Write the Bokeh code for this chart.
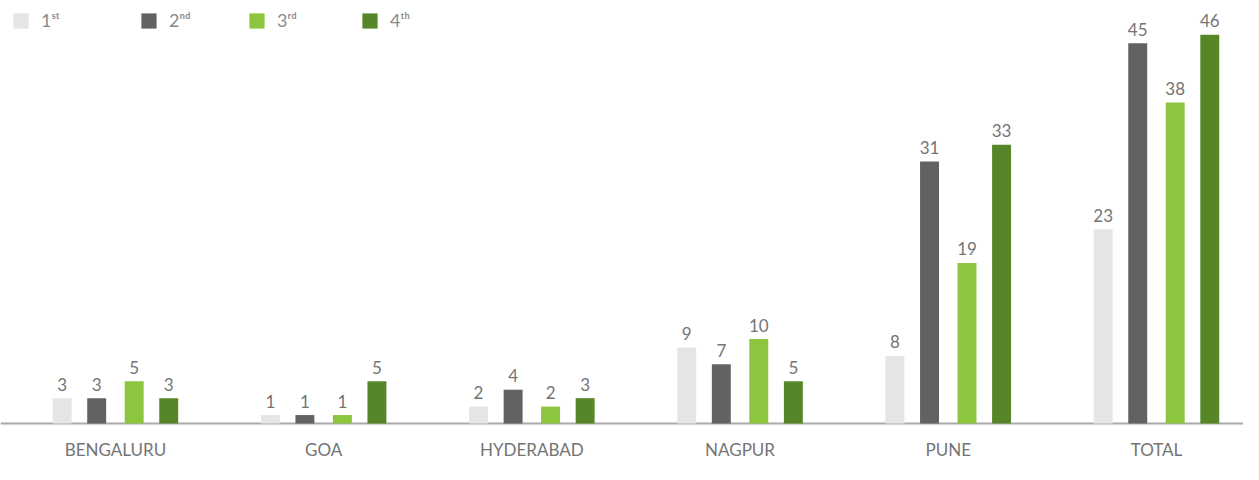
from bokeh.plotting import figure
from bokeh.models import Range1d, Span, Legend, LegendItem, ColumnDataSource, FixedTicker
from bokeh.transform import dodge
from bokeh.embed import file_html
from bokeh.resources import INLINE
from bokeh.core.properties import value

cities = ["BENGALURU", "GOA", "HYDERABAD", "NAGPUR", "PUNE", "TOTAL"]
first = [3, 1, 2, 9, 8, 23]
second = [3, 1, 4, 7, 31, 45]
third = [5, 1, 2, 10, 19, 38]
fourth = [3, 5, 3, 5, 33, 46]
series_names = ["1ˢᵗ", "2ⁿᵈ", "3ʳᵈ", "4ᵗʰ"]
colors = ["#e4e5e6", "#626262", "#8cc63f", "#578629"]

FONT = "Lato"
TEXT_COLOR = "#747474"

src = ColumnDataSource(dict(
    x=list(range(len(cities))),
    s1=first, s2=second, s3=third, s4=fourth,
    l1=[str(v) for v in first], l2=[str(v) for v in second],
    l3=[str(v) for v in third], l4=[str(v) for v in fourth],
))

p = figure(width=1243, height=464,
           x_range=Range1d(-0.552, 5.418), y_range=Range1d(-4.85, 50.06),
           output_backend="svg", toolbar_location=None, y_axis_location=None,
           min_border_left=0, min_border_right=0, min_border_top=0, min_border_bottom=0)
p.outline_line_color = None
p.xgrid.visible = False
p.ygrid.visible = False
p.background_fill_color = "white"
p.border_fill_color = "white"

base = Span(location=0, dimension="width", line_color="#aaaaaa", line_width=2, level="underlay")
p.add_layout(base)

offsets = [-0.256, -0.09, 0.09, 0.256]
renderers = []
for i in range(4):
    r = p.vbar(x=dodge("x", offsets[i], range=p.x_range), top=f"s{i+1}", width=0.091,
               bottom=0, source=src, fill_color=colors[i], line_color=None)
    renderers.append(r)
    p.text(x=dodge("x", offsets[i], range=p.x_range), y=f"s{i+1}", text=f"l{i+1}",
           source=src, text_align="center", text_baseline="alphabetic", y_offset=-14,
           text_font=value(FONT), text_font_size="17px", text_color=TEXT_COLOR)

xa = p.xaxis[0]
xa.fixed_location = 0
xa.ticker = FixedTicker(ticks=list(range(len(cities))))
xa.major_label_overrides = {i: c for i, c in enumerate(cities)}
xa.axis_line_color = None
xa.major_tick_line_color = None
xa.minor_tick_line_color = None
xa.major_tick_out = 0
xa.major_tick_in = 0
xa.minor_tick_out = 0
xa.minor_tick_in = 0
xa.major_label_standoff = 15
xa.major_label_text_font = FONT
xa.major_label_text_font_size = "17px"
xa.major_label_text_color = TEXT_COLOR

legend_x = [11, 139, 247, 360]
for i in range(4):
    leg = Legend(items=[LegendItem(label=series_names[i], renderers=[renderers[i]])],
                 location=(legend_x[i], 433), orientation="horizontal",
                 glyph_width=19, glyph_height=19, label_standoff=11,
                 padding=0, margin=0, spacing=0, label_height=19,
                 border_line_color=None, background_fill_alpha=0,
                 label_text_font=FONT, label_text_font_size="18px",
                 label_text_color="#8a8a8a")
    p.add_layout(leg)

open("out.html", "w").write(file_html(p, INLINE))
